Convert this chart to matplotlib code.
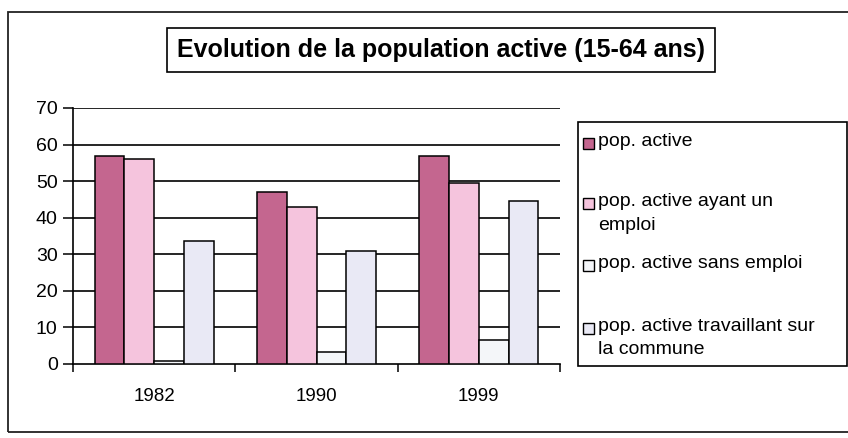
import numpy as np
import matplotlib.pyplot as plt
from matplotlib.patches import Rectangle

years = ['1982', '1990', '1999']
series = ['pop. active', 'pop. active ayant un\nemploi', 'pop. active sans emploi',
          'pop. active travaillant sur\nla commune']
pop_active = [57, 47, 57]
ayant_emploi = [56, 43, 49.5]
sans_emploi = [0.7, 3.2, 6.5]
sur_commune = [33.5, 31, 44.5]

colors = ['#c4668f', '#f5c4dd', '#f4f6f9', '#e9e9f5']
values = [pop_active, ayant_emploi, sans_emploi, sur_commune]

plt.rcParams['font.family'] = ['Liberation Sans', 'DejaVu Sans']
fig = plt.figure(figsize=(8.48, 4.38), dpi=100)
W, H = 848, 438

def fx(px):
    return px / W

def fy(py):
    return 1 - py / H

# outer frame
fig.patches.append(Rectangle((fx(8), fy(432)), 1.0, fy(12) - fy(432), transform=fig.transFigure,
                             fill=False, edgecolor='#222222', lw=1.3))

ax = fig.add_axes([fx(73), fy(364), fx(560) - fx(73), fy(108) - fy(364)])
x = np.arange(len(years))
w = 0.183
for i, (vals, col) in enumerate(zip(values, colors)):
    ax.bar(x + (i - 1.5) * w, vals, w, color=col, edgecolor='black', lw=1.1, zorder=3)

ax.set_ylim(0, 70)
ax.set_xlim(-0.5, 2.5)
ax.set_yticks(range(0, 71, 10))
for v in range(10, 71, 10):
    ax.axhline(v, color='black', lw=1.2, zorder=1)
ax.set_xticks([-0.5, 0.5, 1.5, 2.5])
ax.set_xticklabels([])
ax.set_xticks(x, minor=True)
ax.set_xticklabels(years, minor=True)
ax.tick_params(axis='x', which='minor', length=0, pad=17, labelsize=13.5)
ax.tick_params(axis='x', which='major', length=6, width=1.1, direction='out')
ax.tick_params(axis='y', length=7, width=1.1, direction='out', labelsize=14, pad=4)
for s in ['top', 'right']:
    ax.spines[s].set_visible(False)
for s in ['left', 'bottom']:
    ax.spines[s].set_linewidth(1.2)

fig.text(fx(441), fy(50), 'Evolution de la population active (15-64 ans)', ha='center', va='center',
         fontsize=18, fontweight='bold',
         bbox=dict(boxstyle='square,pad=0.4', facecolor='white', edgecolor='black', lw=1.2))

# legend box
fig.patches.append(Rectangle((fx(578), fy(366)), fx(847) - fx(578), fy(122) - fy(366),
                             transform=fig.transFigure, facecolor='white', edgecolor='black', lw=1.2))
leg_y = [143, 203, 265, 328]
for lab, col, yy in zip(series, colors, leg_y):
    fig.patches.append(Rectangle((fx(583), fy(yy + 5.5)), fx(11), 11 / H, transform=fig.transFigure,
                                 facecolor=col, edgecolor='black', lw=1.0))
    fig.text(fx(598), fy(yy - 10), lab, ha='left', va='top', fontsize=14, linespacing=1.5)

plt.savefig('out.png', dpi=100)
